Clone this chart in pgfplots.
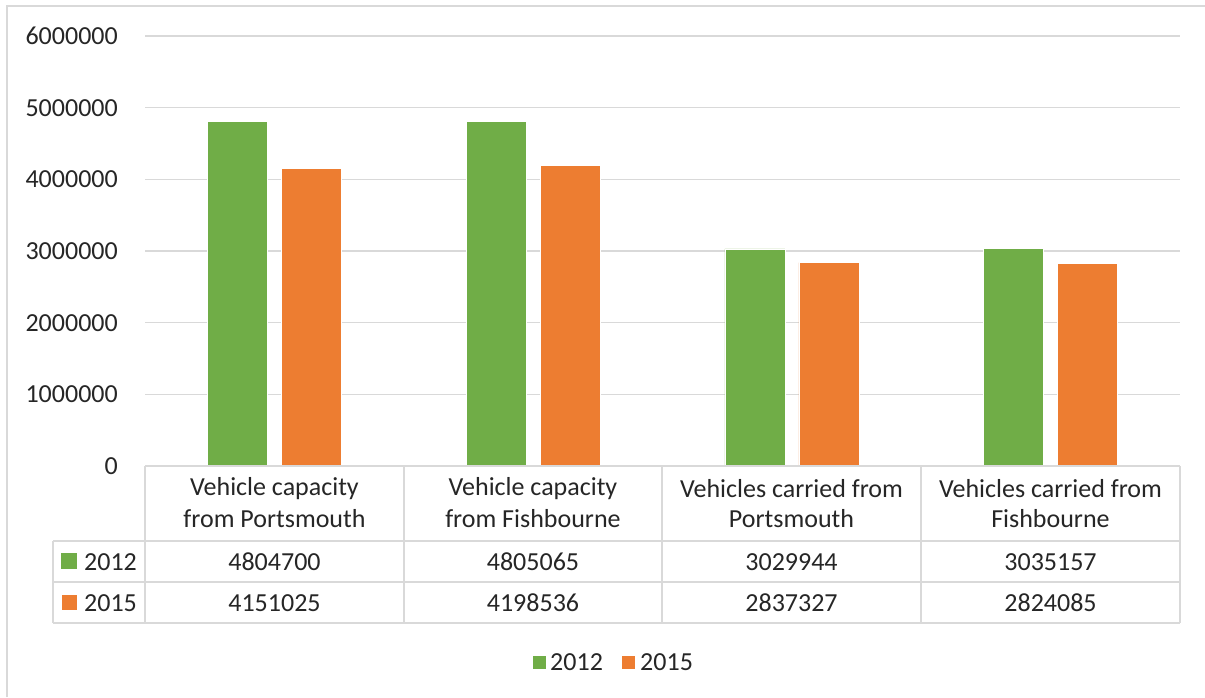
\documentclass[border=0pt]{standalone}
\usepackage{pgfplots}
\pgfplotsset{compat=1.18}
\usepackage{fontspec}
\setmainfont{Carlito}
\definecolor{cgreen}{HTML}{70AD47}
\definecolor{corange}{HTML}{ED7D31}
\definecolor{cgrid}{HTML}{D9D9D9}
\definecolor{ctext}{HTML}{262626}
\newcommand{\tf}{\fontsize{26}{30}\selectfont}
\begin{document}
\tf
\begin{tikzpicture}[x=1pt,y=1pt]
\useasboundingbox (0,0) rectangle (1205,697);
\fill[white] (0,0) rectangle (1205,697);
\draw[cgrid,line width=1.5pt] (7,0) -- (7,691) -- (1205,691);
\begin{axis}[
  at={(145pt,231pt)}, anchor=south west,
  scale only axis, width=1035pt, height=430pt,
  xmin=-0.5, xmax=3.5, ymin=0, ymax=6000000,
  ybar=14pt, bar width=60pt,
  xtick=\empty,
  ytick={0,1000000,...,6000000},
  scaled y ticks=false,
  yticklabel style={/pgf/number format/fixed,/pgf/number format/1000 sep={},/pgf/number format/assume math mode=true, text=ctext, font=\tf, inner sep=0pt, anchor=east, xshift=-27pt},
  ymajorgrids, grid style={cgrid,line width=1.2pt},
  major tick length=0pt,
  axis line style={draw=none},
  clip=false,
]
\addplot[fill=cgreen,draw=white,line width=0.6pt] coordinates {(0,4804700) (1,4805065) (2,3029944) (3,3035157)};
\addplot[fill=corange,draw=white,line width=0.6pt] coordinates {(0,4151025) (1,4198536) (2,2837327) (3,2824085)};
\end{axis}
% data table
\begin{scope}[cgrid,line width=1.5pt]
\draw (145,231) -- (1180,231);
\draw (53,156) -- (1180,156);
\draw (53,115) -- (1180,115);
\draw (53,74) -- (1180,74);
\foreach \x in {145,404,662,921,1180} \draw (\x,231) -- (\x,74);
\draw (53,156) -- (53,74);
\end{scope}
\begin{scope}[every node/.style={text=ctext,font=\tf,inner sep=0pt}]
\node at (274.5,208) {Vehicle capacity};
\node at (274.5,178) {from Portsmouth};
\node at (533,208) {Vehicle capacity};
\node at (533,178) {from Fishbourne};
\node at (791.5,208) {Vehicles carried from};
\node at (791.5,178) {Portsmouth};
\node at (1050.5,208) {Vehicles carried from};
\node at (1050.5,178) {Fishbourne};
\node at (274.5,135) {4804700};
\node at (533,135) {4805065};
\node at (791.5,135) {3029944};
\node at (1050.5,135) {3035157};
\node at (274.5,94) {4151025};
\node at (533,94) {4198536};
\node at (791.5,94) {2837327};
\node at (1050.5,94) {2824085};
\node[anchor=west] at (84,135) {2012};
\node[anchor=west] at (84,94) {2015};
\node[anchor=west] at (550,35) {2012};
\node[anchor=west] at (640,35) {2015};
\end{scope}
\fill[cgreen] (61,128) rectangle (77,144);
\fill[corange] (62,87) rectangle (77,102);
\fill[cgreen] (533,28) rectangle (546,41);
\fill[corange] (622,28) rectangle (635,41);
\end{tikzpicture}
\end{document}
